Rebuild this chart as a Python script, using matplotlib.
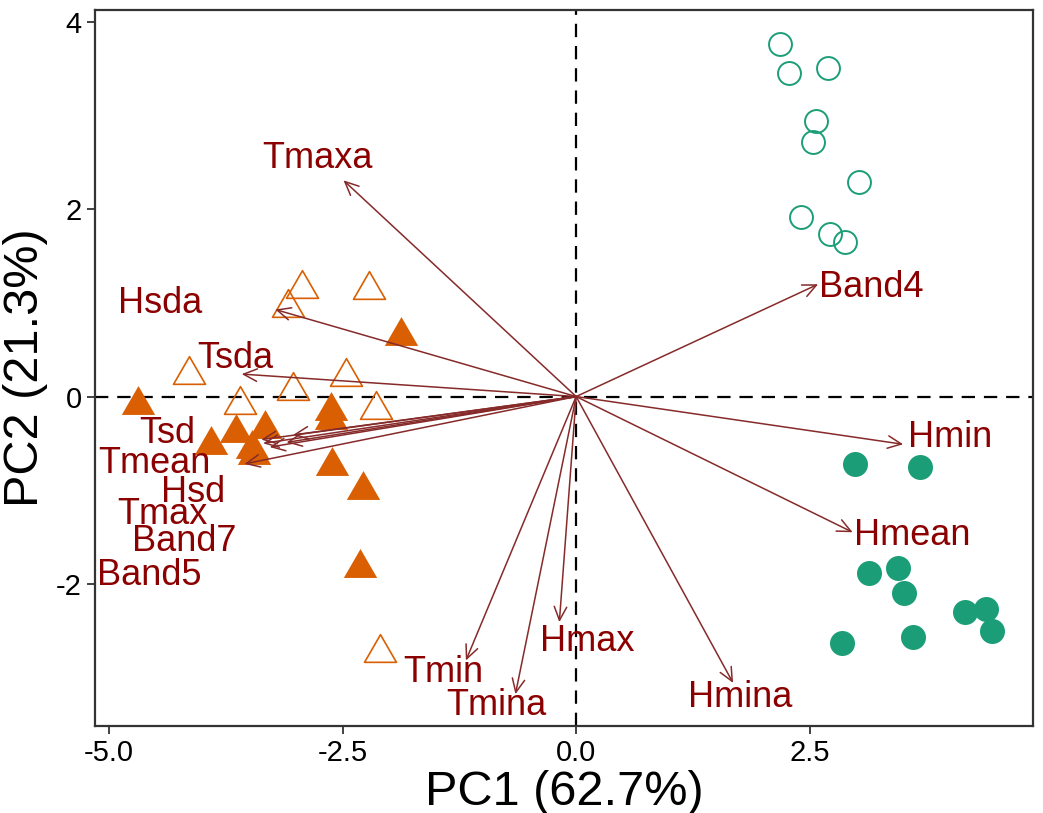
import matplotlib
matplotlib.use("Agg")
import matplotlib.pyplot as plt
from matplotlib.path import Path
import numpy as np

plt.rcParams['font.family'] = ['Liberation Sans', 'DejaVu Sans']

# ---- data ----
open_circle_x = [2.18, 2.28, 2.70, 2.57, 2.53, 3.03, 2.41, 2.72, 2.88]
open_circle_y = [3.77, 3.46, 3.51, 2.94, 2.72, 2.29, 1.92, 1.74, 1.65]

filled_circle_x = [2.99, 3.68, 3.13, 3.44, 3.51, 4.16, 4.39, 4.45, 2.85, 3.61]
filled_circle_y = [-0.72, -0.75, -1.88, -1.83, -2.10, -2.30, -2.27, -2.51, -2.63, -2.57]

open_tri_x = [-2.93, -2.22, -3.08, -4.14, -2.46, -3.03, -3.60, -2.14, -2.10]
open_tri_y = [1.20, 1.19, 1.00, 0.28, 0.26, 0.11, -0.04, -0.09, -2.69]

filled_tri_x = [-1.88, -4.69, -2.62, -2.62, -3.33, -3.64, -3.91, -3.47, -3.45, -2.61, -2.28, -2.31]
filled_tri_y = [0.70, -0.04, -0.10, -0.20, -0.29, -0.34, -0.46, -0.51, -0.57, -0.69, -0.94, -1.78]

variables = ['Tmaxa', 'Band4', 'Hsda', 'Tsda', 'Tsd', 'Tmean', 'Hsd', 'Tmax',
             'Band7', 'Band5', 'Hmin', 'Hmean', 'Hmax', 'Tmin', 'Tmina', 'Hmina']
load_x = [-2.49, 2.59, -3.22, -3.58, -3.03, -3.37, -3.10, -3.35,
          -3.28, -3.55, 3.50, 2.96, -0.18, -1.18, -0.65, 1.68]
load_y = [2.31, 1.20, 0.93, 0.24, -0.41, -0.46, -0.49, -0.50,
          -0.54, -0.72, -0.51, -1.45, -2.41, -2.82, -3.18, -3.06]
label_x = [-2.77, 3.16, -4.45, -3.65, -4.38, -4.51, -4.10, -4.43,
           -4.20, -4.57, 4.00, 3.60, 0.12, -1.42, -0.85, 1.76]
label_y = [2.54, 1.17, 0.99, 0.41, -0.39, -0.72, -1.02, -1.26,
           -1.55, -1.91, -0.44, -1.48, -2.62, -2.95, -3.30, -3.22]

x_ticks = [-5.0, -2.5, 0.0, 2.5]
x_ticklabels = ['-5.0', '-2.5', '0.0', '2.5']
y_ticks = [-2, 0, 2, 4]
y_ticklabels = ['-2', '0', '2', '4']

# ---- style ----
green = '#1B9E77'
orange = '#D95F02'
arrow_col = '#862A2A'
text_col = '#8B0000'

tri = Path([(-1, -0.866), (1, -0.866), (0, 0.866), (-1, -0.866)],
           [Path.MOVETO, Path.LINETO, Path.LINETO, Path.CLOSEPOLY])

fig = plt.figure(figsize=(10.43, 8.13), dpi=100)
ax = fig.add_axes([95 / 1043, 87 / 813, (1033 - 95) / 1043, (726 - 10) / 813])

ax.axhline(0, color='black', lw=1.6, ls=(0, (6, 4)), zorder=1)
ax.axvline(0, color='black', lw=1.6, ls=(0, (6, 4)), zorder=1)

ax.plot(open_circle_x, open_circle_y, 'o', ms=16.5, mfc='none', mec=green, mew=1.4, zorder=3)
ax.plot(filled_circle_x, filled_circle_y, 'o', ms=18, mfc=green, mec=green, mew=0, zorder=3)
ax.plot(open_tri_x, open_tri_y, ls='none', marker=tri, ms=23, mfc='none', mec=orange, mew=1.2, zorder=3)
ax.plot(filled_tri_x, filled_tri_y, ls='none', marker=tri, ms=24, mfc=orange, mec=orange, mew=0, zorder=3)

for name, lx, ly, tx, ty in zip(variables, load_x, load_y, label_x, label_y):
    ax.annotate('', xy=(lx, ly), xytext=(0, 0),
                arrowprops=dict(arrowstyle='->,head_length=0.65,head_width=0.3',
                                color=arrow_col, lw=1.1, mutation_scale=15,
                                shrinkA=0, shrinkB=0), zorder=4)
    ax.text(tx, ty, name, color=text_col, fontsize=26, ha='center', va='center', zorder=5)

ax.set_xlim(-5.15, 4.89)
ax.set_ylim(-3.52, 4.13)
ax.set_xticks(x_ticks)
ax.set_xticklabels(x_ticklabels)
ax.set_yticks(y_ticks)
ax.set_yticklabels(y_ticklabels)
ax.tick_params(axis='both', labelsize=21, length=6, width=1.3, color='#333333', labelcolor='black')

for s in ax.spines.values():
    s.set_color('#333333')
    s.set_linewidth(1.6)

ax.set_xlabel('PC1 (62.7%)', fontsize=35, labelpad=2)
ax.set_ylabel('PC2 (21.3%)', fontsize=35, labelpad=6)

fig.savefig('out.png', dpi=100)
